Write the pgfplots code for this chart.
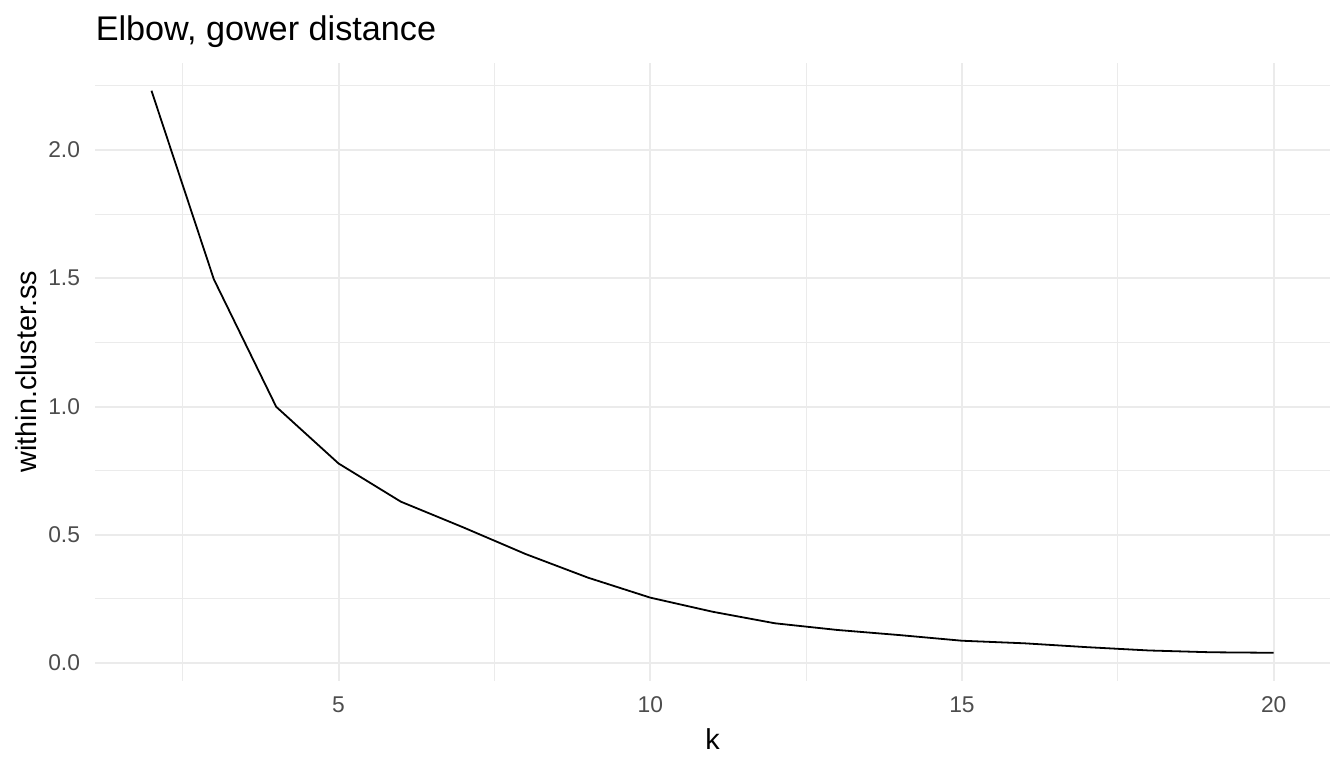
\documentclass[border=0pt]{standalone}
\usepackage{fontspec}
\setmainfont{Liberation Sans}
\usepackage{pgfplots}
\pgfplotsset{compat=1.18}

\definecolor{gridcol}{RGB}{235,235,235}
\definecolor{tickcol}{RGB}{77,77,77}

\pgfplotstableread{
k wss
2 2.231
3 1.496
4 0.999
5 0.778
6 0.629
7 0.529
8 0.425
9 0.333
10 0.255
11 0.200
12 0.155
13 0.129
14 0.109
15 0.087
16 0.077
17 0.062
18 0.049
19 0.042
20 0.040
}\elbow

\begin{document}
\begin{tikzpicture}
\path[use as bounding box] (-47.7pt,-43.5pt) rectangle (624.3pt,340.5pt);
\begin{axis}[
  at={(0,0)}, anchor=south west,
  scale only axis,
  width=617.2pt, height=309.25pt,
  xmin=1.1, xmax=20.9,
  ymin=-0.07, ymax=2.341,
  axis line style={draw=none},
  clip=false,
  xtick={5,10,15,20},
  minor xtick={2.5,7.5,12.5,17.5},
  ytick={0,0.5,1,1.5,2},
  minor ytick={0.25,0.75,1.25,1.75,2.25},
  /pgf/number format/assume math mode=true,
  grid=both,
  major grid style={gridcol, line width=1pt},
  minor grid style={gridcol, line width=0.5pt},
  major tick length=0pt, minor tick length=0pt,
  tick style={draw=none},
  tick label style={font=\fontsize{11.4}{13}\selectfont, text=tickcol, inner sep=0pt},
  xticklabel style={anchor=north, yshift=-7.8pt},
  yticklabel style={anchor=east, xshift=-7.5pt,
    /pgf/number format/fixed, /pgf/number format/fixed zerofill,
    /pgf/number format/precision=1},
]
\addplot[black, line width=0.9pt, mark=none] table[x=k, y=wss] {\elbow};

\node[anchor=base west, font=\fontsize{17.1}{20}\selectfont, inner sep=0pt]
  at ([yshift=11.25pt]rel axis cs:0,1) {Elbow, gower distance};
\node[anchor=base, font=\fontsize{14.4}{17}\selectfont, inner sep=0pt]
  at ([yshift=-34pt]rel axis cs:0.5,0) {k};
\node[anchor=base, rotate=90, font=\fontsize{14.4}{17}\selectfont, inner sep=0pt]
  at ([xshift=-29.2pt]rel axis cs:0,0.5) {within.cluster.ss};
\end{axis}
\end{tikzpicture}
\end{document}
